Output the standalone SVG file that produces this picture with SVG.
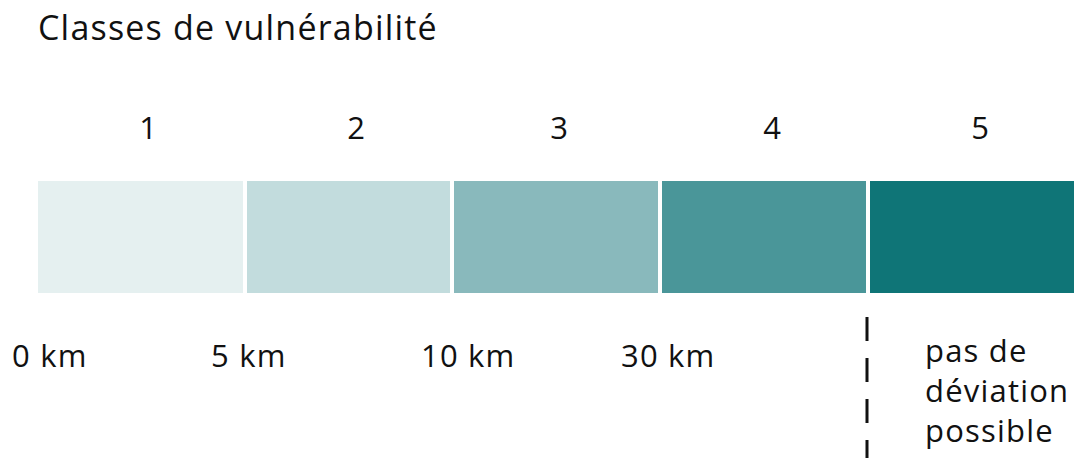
<svg xmlns="http://www.w3.org/2000/svg" width="1090" height="471" viewBox="0 0 1090 471">
<style>
text{font-family:"Open Sans","Noto Sans",sans-serif;fill:#111;}
.t{font-size:34px;letter-spacing:1.2px;}
.n{font-size:31px;text-anchor:middle;}
.l{font-size:31px;letter-spacing:1.2px;}
</style>
<rect width="1090" height="471" fill="#fff"/>
<text class="t" x="38" y="40">Classes de vulnérabilité</text>
<g id="class1"><rect x="38" y="181" width="205" height="112" fill="#e5f0f0"/><text class="n" x="148" y="139">1</text></g>
<g id="class2"><rect x="247" y="181" width="203" height="112" fill="#c2dcdd"/><text class="n" x="356" y="139">2</text></g>
<g id="class3"><rect x="454" y="181" width="204" height="112" fill="#89b9bc"/><text class="n" x="559" y="139">3</text></g>
<g id="class4"><rect x="662" y="181" width="204" height="112" fill="#4a9699"/><text class="n" x="772" y="139">4</text></g>
<g id="class5"><rect x="870" y="181" width="204" height="112" fill="#0f7577"/><text class="n" x="980" y="139">5</text></g>
<g id="connectors"><line x1="867" y1="317" x2="867" y2="458" stroke="#111" stroke-width="3" stroke-dasharray="24 17"/></g>
<g id="labels">
<text class="l" x="12" y="367">0 km</text>
<text class="l" x="211" y="367">5 km</text>
<text class="l" x="421" y="367">10 km</text>
<text class="l" x="621" y="367">30 km</text>
<text class="l" x="925" y="362">pas de</text>
<text class="l" x="925" y="402">déviation</text>
<text class="l" x="925" y="442">possible</text>
</g>
</svg>
